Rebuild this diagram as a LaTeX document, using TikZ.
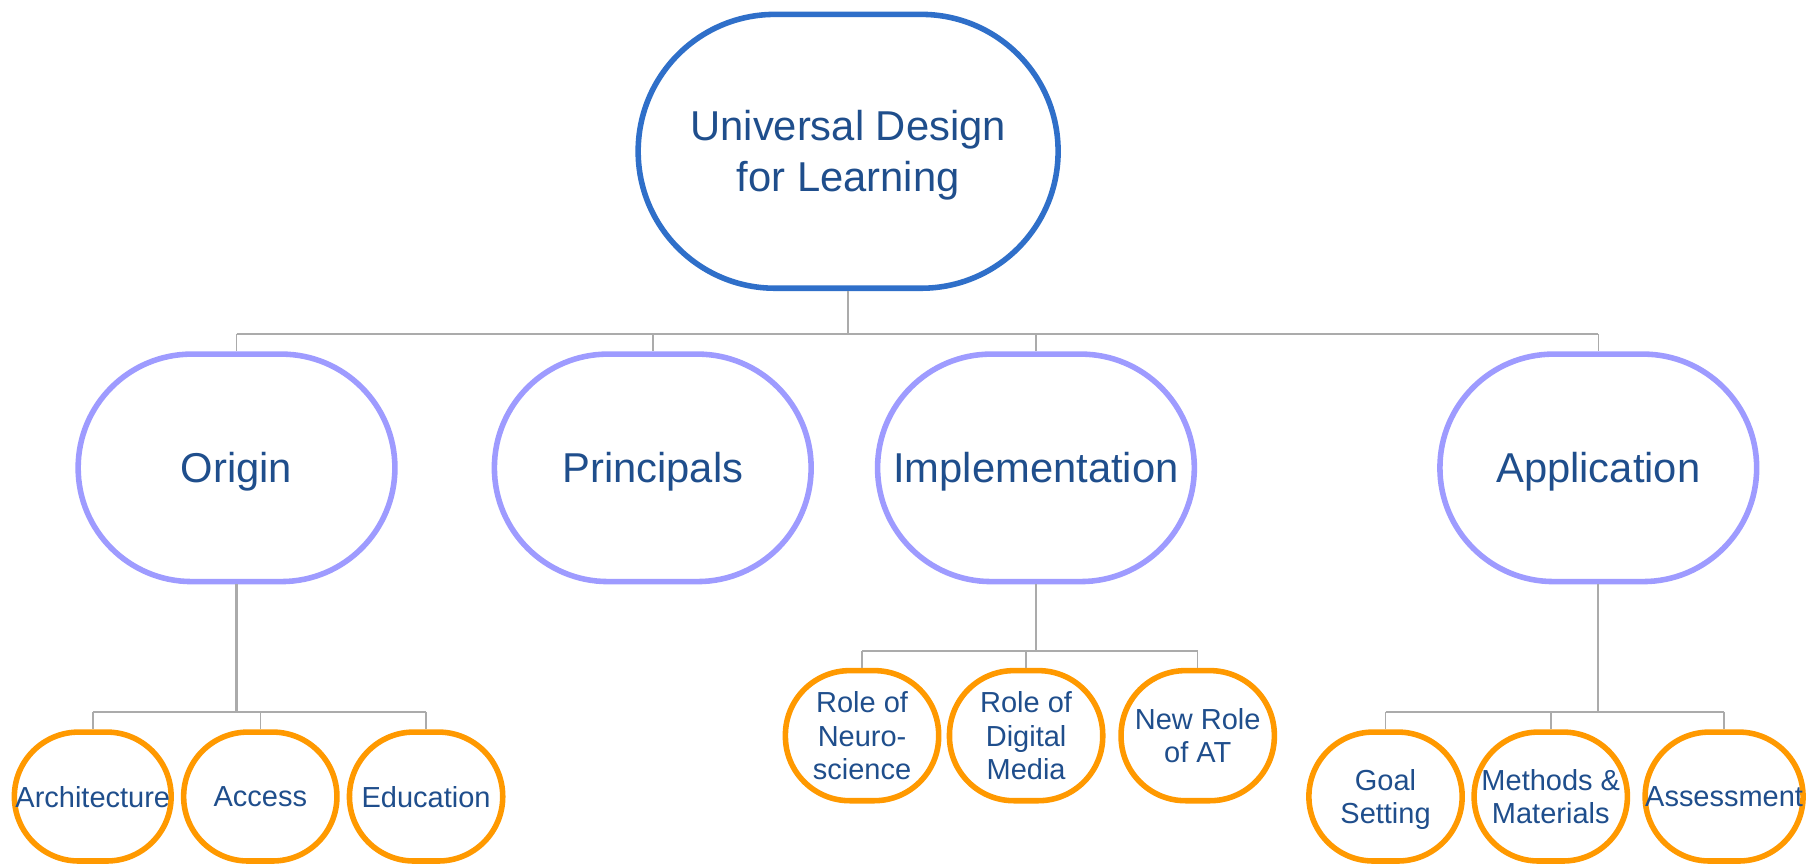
\documentclass[tikz,border=0pt]{standalone}
\usepackage{fontspec}
\setmainfont{Liberation Sans}
\definecolor{txtblue}{HTML}{1F4E8C}
\definecolor{topblue}{HTML}{2F6FC9}
\definecolor{lav}{HTML}{9E9BFF}
\definecolor{orng}{HTML}{FF9900}
\definecolor{conn}{HTML}{ABABAB}
\begin{document}
\begin{tikzpicture}[x=1pt,y=-1pt,
  every node/.style={text=txtblue, inner sep=0pt, align=center, text depth=0pt},
  topbox/.style={draw=topblue, line width=4.8pt, fill=white, minimum width=362.2pt, minimum height=236.2pt, rounded corners=118pt, font=\fontsize{36}{44}\selectfont},
  midbox/.style={draw=lav, line width=4.8pt, fill=white, minimum width=273.2pt, minimum height=196.2pt, rounded corners=98pt, font=\fontsize{36}{43}\selectfont},
  leafbox/.style={draw=orng, line width=4.8pt, fill=white, minimum width=132.2pt, minimum height=111.2pt, rounded corners=55.5pt, font=\fontsize{25}{29}\selectfont},
  busline/.style={draw=conn, line width=1.3pt},
  stemline/.style={draw=conn, line width=1.9pt}]
\useasboundingbox (0,0) rectangle (1568,747);
% nodes
\node[topbox] (top) at (731.5,130.5) {Universal Design\\for Learning};
\node[midbox] (origin) at (204,403.5) {Origin};
\node[midbox] (principals) at (563,403.5) {Principals};
\node[midbox] (impl) at (893.5,403.5) {Implementation};
\node[midbox] (app) at (1378.5,403.5) {Application};
\node[leafbox, minimum width=135.2pt] (arch) at (80,687) {Architecture};
\node[leafbox] (access) at (224.5,687) {Access};
\node[leafbox] (educ) at (367.5,687) {Education};
\node[leafbox, minimum height=112.2pt] (neuro) at (743.5,634.5) {Role of\\Neuro-\\science};
\node[leafbox, minimum height=112.2pt] (digital) at (885,634.5) {Role of\\Digital\\Media};
\node[leafbox, minimum height=112.2pt] (at) at (1033,634.5) {New Role\\of AT};
\node[leafbox] (goal) at (1195,687) {Goal\\Setting};
\node[leafbox] (methods) at (1337.5,687) {Methods \&\\Materials};
\node[leafbox, minimum width=136.2pt] (assess) at (1487,687) {Assessment};
% connectors level 1
\coordinate (b0) at (top.south |- 0,288);
\draw[stemline] (top.south) -- (b0);
\draw[busline] (origin.north |- b0) -- (app.north |- b0);
\foreach \n in {origin,principals,impl,app}
  \draw[busline] (\n.north |- b0) -- (\n.north);
% origin children
\coordinate (b1) at (origin.south |- 0,614);
\draw[stemline] (origin.south) -- (b1);
\draw[busline] (arch.north |- b1) -- (educ.north |- b1);
\foreach \n in {arch,access,educ}
  \draw[busline] (\n.north |- b1) -- (\n.north);
% implementation children
\coordinate (b2) at (impl.south |- 0,561.5);
\draw[stemline] (impl.south) -- (b2);
\draw[busline] (neuro.north |- b2) -- (at.north |- b2);
\foreach \n in {neuro,digital,at}
  \draw[busline] (\n.north |- b2) -- (\n.north);
% application children
\coordinate (b3) at (app.south |- 0,614);
\draw[stemline] (app.south) -- (b3);
\draw[busline] (goal.north |- b3) -- (assess.north |- b3);
\foreach \n in {goal,methods,assess}
  \draw[busline] (\n.north |- b3) -- (\n.north);
\end{tikzpicture}
\end{document}
